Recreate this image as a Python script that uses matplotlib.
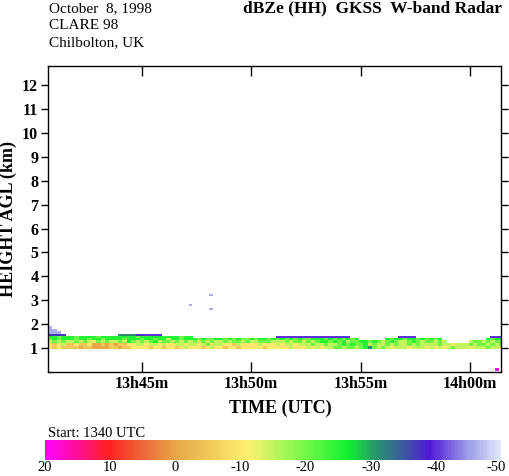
import numpy as np
import matplotlib
matplotlib.use("Agg")
import matplotlib.pyplot as plt
import matplotlib.transforms as mtransforms
from matplotlib.colors import LinearSegmentedColormap

plt.rcParams['font.family'] = 'Liberation Serif'
plt.rcParams['axes.unicode_minus'] = False

# radar time-height field: 0.2 min columns starting 13h40.73m, rows in km
t_start = 40.73
t_step = 0.2
n_cols = 104
h_edges = [0.96, 1.08, 1.20, 1.32, 1.42, 1.52, 1.60, 1.70, 1.80, 1.94]

# one character per cell, see dbz_key
rows = [
    "yayaaaaoaao" "oooaaoaayyy" "yayyayyayly"
    "yyaylyyayyay" "yyyyayyyyyly" "yylylyllgglg" "glgGtglglyll" "lylllylylylg" "lllylllglly",
    "yaylaayaayo" "oaoaoaayyll" "yllylyyllyl"
    "lylgyllyyaly" "yyylyyylylly" "lllgllgllgGg" "GggGlgllglgl" "lglgllllglly" "lllglgglglg",
    "lglgllglgly" "glgllglGglg" "lgGlgglglgl"
    "glglgllglggl" "gllggglllglg" "glglgGGgGgGl" "ggGGgGglgGgl" "lgGglgglgl" "....." "lgglglgg",
    "gGgGGGgGGgG" "GgGGGGgGGGg" "GGgGGlGGgGG"
    "GgGggGGgGgGg" "gGgGGgGgGgGg" "GggGGGgGgGgG" "gG" "......" "GgGGgGGgGgGgG" "......." "..." "GgGG",
    "GGgGGGgGGGG" "gGGGGGGGGgG" "GGGGGGGGgGG"
    "..................." "ppppppppppppppppp" "..........." "pppp" "................." "ppp",
    "bbbb" "............" "tttt" "bb" "pppp",
    "www",
    "ww",
    "w",
]

dbz_key = {'m': 20, 'r': 10, 'o': 0, 'a': -5, 'y': -10, 'l': -15, 'g': -20,
           'G': -25, 't': -31, 'b': -37, 'p': -40, 'w': -46}

# isolated echoes: t0, t1 (min), h0, h1 (km), dBZ
speck_t0 = [47.18, 48.09, 48.09, 61.14]
speck_t1 = [47.32, 48.27, 48.27, 61.32]
speck_h0 = [2.76, 3.18, 2.59, 0.04]
speck_h1 = [2.84, 3.26, 2.68, 0.15]
speck_dbz = [-46, -46, -46, 20]

# colour table, dBZ -> colour
cmap_dbz = [-50, -45, -39, -35, -31, -26.5, -19, -11, -5, 0, 5, 10.5, 15, 20]
cmap_col = ['#e0e8fa', '#9c9ee8', '#5018d8', '#3c5aa0', '#2a9070', '#10f030',
            '#80f848', '#fff070', '#f0c858', '#e8a848', '#ee6a3a', '#ff2020',
            '#ff1090', '#ff00ff']
cbar_ticks = [20, 10, 0, -10, -20, -30, -40, -50]

xticks = [45, 50, 55, 60]
xtick_labels = ['13h45m', '13h50m', '13h55m', '14h00m']
yticks = list(range(1, 13))

vmin, vmax = -50, 20
cmap = LinearSegmentedColormap.from_list(
    'wband', [((v - vmin) / (vmax - vmin), c) for v, c in zip(cmap_dbz, cmap_col)])

Z = np.full((len(rows), n_cols), np.nan)
for i, r in enumerate(rows):
    r = (r + '.' * n_cols)[:n_cols]
    for j, ch in enumerate(r):
        if ch in dbz_key:
            Z[i, j] = dbz_key[ch]
t_edges = t_start + t_step * np.arange(n_cols + 1)

fig = plt.figure(figsize=(5.09, 4.76), dpi=100)
ax = fig.add_axes([48 / 509, 104 / 476, 453 / 509, 306 / 476])
ax.pcolormesh(t_edges, h_edges, Z, cmap=cmap, vmin=vmin, vmax=vmax, shading='flat')
for a0, a1, b0, b1, v in zip(speck_t0, speck_t1, speck_h0, speck_h1, speck_dbz):
    ax.pcolormesh([a0, a1], [b0, b1], np.array([[v]]), cmap=cmap, vmin=vmin, vmax=vmax)

ax.set_xlim(40.73, 61.41)
ax.set_ylim(0, 12.8)
ax.set_xticks(xticks)
ax.set_xticklabels(xtick_labels, fontweight='bold', fontsize=11.5)
ax.set_yticks(yticks)
ax.set_yticklabels([str(v) for v in yticks], fontweight='bold', fontsize=11.5)
ax.tick_params(axis='x', direction='in', top=True, length=7, width=1, pad=3)
ax.tick_params(axis='y', direction='out', right=True, length=5, width=1, pad=2)
for s in ax.spines.values():
    s.set_linewidth(1)
ax.set_ylabel('HEIGHT AGL (km)', fontweight='bold', fontsize=13, labelpad=4)

fig.text(280 / 509, 1 - 408 / 476, 'TIME (UTC)', ha='center', va='center',
         fontweight='bold', fontsize=13)
fig.text(49 / 509, 1 - 12 / 476, 'October  8, 1998', ha='left', va='baseline', fontsize=11)
fig.text(49 / 509, 1 - 29 / 476, 'CLARE 98', ha='left', va='baseline', fontsize=11)
fig.text(49 / 509, 1 - 46 / 476, 'Chilbolton, UK', ha='left', va='baseline', fontsize=11)
fig.text(502 / 509, 1 - 12 / 476, 'dBZe (HH)  GKSS  W-band Radar', ha='right',
         va='baseline', fontweight='bold', fontsize=12.5)
fig.text(48 / 509, 1 - 437 / 476, 'Start: 1340 UTC', ha='left', va='baseline', fontsize=10.5)

cax = fig.add_axes([45 / 509, 16 / 476, 456 / 509, 20 / 476])
cb_vals = np.linspace(vmax, vmin, 300)
cax.pcolormesh(cb_vals, [0, 1], cb_vals[np.newaxis, :-1], cmap=cmap, vmin=vmin, vmax=vmax)
cax.set_xlim(20, -50)
cax.set_ylim(0, 1)
cax.set_xticks([])
cax.set_yticks([])
for s in cax.spines.values():
    s.set_visible(False)
for v in cbar_ticks:
    shift = -5 if v == cbar_ticks[-1] else 0
    tr = mtransforms.offset_copy(cax.transData, fig=fig, x=shift, y=-1, units='dots')
    cax.text(v, 0, str(v), transform=tr, ha='center', va='top', fontsize=10.5)

fig.savefig('out.png', dpi=100)
